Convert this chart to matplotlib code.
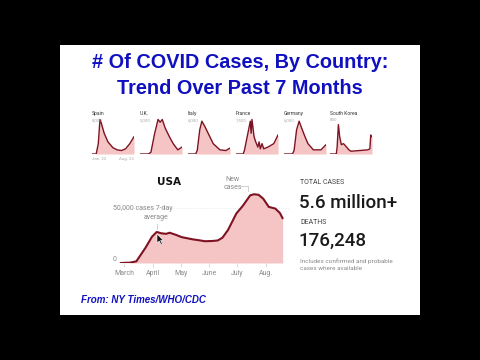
import matplotlib
matplotlib.use('Agg')
import matplotlib.pyplot as plt
import numpy as np
import pandas as pd
from matplotlib.patches import Rectangle, Polygon

# ---- data -------------------------------------------------------------
# USA new cases, 7-day average
usa_dates = ['2020-02-26', '2020-03-07', '2020-03-14', '2020-03-24', '2020-03-31',
             '2020-04-05', '2020-04-10', '2020-04-15', '2020-04-19', '2020-04-26',
             '2020-05-02', '2020-05-08', '2020-05-14', '2020-05-22', '2020-05-27',
             '2020-06-04', '2020-06-10', '2020-06-15', '2020-06-21', '2020-06-30',
             '2020-07-07', '2020-07-15', '2020-07-19', '2020-07-24', '2020-07-29',
             '2020-08-04', '2020-08-11', '2020-08-16', '2020-08-19']
usa_cases = [0, 300, 1500, 14000, 24000,
             28200, 27000, 26500, 27500, 25500,
             23500, 22500, 21500, 20500, 19800,
             20000, 20500, 23000, 30000, 45000,
             52000, 61500, 62500, 62000, 58500,
             51000, 49500, 45500, 40600]
month_labels = ['March', 'April', 'May', 'June', 'July', 'Aug.']
month_starts = ['2020-03-01', '2020-04-01', '2020-05-01', '2020-06-01', '2020-07-01', '2020-08-01']

# small multiples: relative shape of each country's curve (time fraction, share of peak)
countries = ['Spain', 'U.K.', 'Italy', 'France', 'Germany', 'South Korea']
country_sub = ['8,000', '5,000', '6,000', '7,500', '6,000', '800']
spain_t = [0, .1, .15, .19, .22, .29, .38, .5, .6, .7, .8, .9, 1.0]
spain_v = [0, 0, .3, 1.0, .9, .6, .35, .18, .12, .1, .15, .3, .5]
uk_t = [0, .2, .26, .35, .43, .48, .53, .6, .7, .79, .9, 1]
uk_v = [0, 0, .05, .6, 1.0, .92, 1.0, .75, .5, .3, .12, .2]
italy_t = [0, .18, .22, .28, .33, .4, .5, .6, .76, .9, 1]
italy_v = [0, 0, .1, .7, .95, .8, .55, .3, .12, .1, .17]
france_t = [0, .17, .2, .3, .34, .36, .38, .43, .47, .52, .55, .58, .62, .66, .76, .9, 1]
france_v = [0, 0, .1, .7, .95, .6, 1.0, .5, .35, .2, .35, .15, .3, .15, .2, .3, .55]
germany_t = [0, .2, .24, .3, .36, .42, .5, .57, .7, .88, 1]
germany_v = [0, 0, .1, .7, .95, .75, .5, .3, .12, .12, .27]
korea_t = [0, .15, .17, .2, .23, .27, .32, .36, .45, .5, .7, .9, .95, .97, 1]
korea_v = [0, 0, .2, .85, .5, .27, .3, .25, .12, .08, .1, .12, .15, .55, .5]
shapes = [(spain_t, spain_v), (uk_t, uk_v), (italy_t, italy_v),
          (france_t, france_v), (germany_t, germany_v), (korea_t, korea_v)]

total_cases = '5.6 million+'
deaths = '176,248'

# ---- layout helpers (pixel boxes on a 480x360 canvas) -------------------
W, H = 480, 360
def box(x0, y0, x1, y1):
    return [x0 / W, 1 - y1 / H, (x1 - x0) / W, (y1 - y0) / H]

def fx(x):
    return x / W

def fy(y):
    return 1 - y / H

LINE = '#7d1322'
FILL = '#f5c4c4'
BLUE = '#1010c0'
GREY = '#8a8a8a'

fig = plt.figure(figsize=(4.8, 3.6), dpi=100)
fig.patch.set_facecolor('black')
slide = Rectangle((fx(60), fy(315)), fx(360), 270 / H, transform=fig.transFigure,
                  facecolor='white', edgecolor='none', zorder=-10)
fig.patches.append(slide)

fig.text(0.5, fy(63), '# Of COVID Cases, By Country:', ha='center', va='center',
         color=BLUE, fontsize=14.3, fontweight='bold', family='Liberation Sans')
fig.text(0.5, fy(88), 'Trend Over Past 7 Months', ha='center', va='center',
         color=BLUE, fontsize=14.3, fontweight='bold', family='Liberation Sans')

# ---- small multiples ---------------------------------------------------
starts = [92, 140, 188, 236, 284, 330]
for i, (name, sub, (t, v)) in enumerate(zip(countries, country_sub, shapes)):
    x0 = starts[i]
    ax = fig.add_axes(box(x0, 116, x0 + 42, 154))
    ax.patch.set_alpha(0)
    ax.fill_between(t, v, color=FILL, lw=0)
    ax.plot(t, v, color=LINE, lw=1.0)
    ax.set_xlim(0, 1)
    ax.set_ylim(0, 1.1)
    ax.axis('off')
    ax.axhline(0, color='#bbbbbb', lw=0.4)
    ax.text(0.0, 1.06, name, transform=ax.transAxes, fontsize=3.6, color='#333333',
            va='center', family='Roboto')
    ax.text(0.0, 0.9, sub, transform=ax.transAxes, fontsize=3.2, color='#aaaaaa',
            va='center', family='Roboto')
    if i == 0:
        ax.text(0.0, -0.12, 'Jan. 22', transform=ax.transAxes, fontsize=3.2, color='#aaaaaa',
                va='center', family='Roboto')
        ax.text(1.0, -0.12, 'Aug. 22', transform=ax.transAxes, fontsize=3.2, color='#aaaaaa',
                va='center', ha='right', family='Roboto')

# ---- USA chart ----------------------------------------------------------
origin = pd.Timestamp('2020-03-01')
days = (pd.to_datetime(usa_dates) - origin).days.values
mdays = (pd.to_datetime(month_starts) - origin).days.values

ax = fig.add_axes(box(113, 172, 290, 263))
ax.patch.set_alpha(0)
ax.fill_between(days, usa_cases, color=FILL, lw=0)
ax.plot(days, usa_cases, color=LINE, lw=1.5, solid_capstyle='round')
px_per_case = 55 / 50000
ax.set_xlim((113 - 124.3) / 0.926, (290 - 124.3) / 0.926)
ax.set_ylim(0, 91 / px_per_case)
for s in ax.spines.values():
    s.set_visible(False)
ax.set_yticks([])
ax.set_xticks(mdays)
ax.set_xticklabels(month_labels, fontsize=5, color=GREY, family='Roboto')
ax.tick_params(axis='x', length=3, color='#cccccc', width=0.5, pad=2)
ax.plot([-12, 178], [50000, 50000], color='#dddddd', lw=0.5, ls=':', zorder=0)

ax.text(-12.5, 50000, '50,000 cases 7-day', fontsize=5, color=GREY, va='center',
        family='Roboto')
ax.text(48, 41500, 'average', fontsize=5, color=GREY, va='center', ha='right',
        family='Roboto')
ax.plot([35, 35], [30500, 35500], color='#bbbbbb', lw=0.5)
ax.text(-12.5, 3500, '0', fontsize=5, color=GREY, va='center', family='Roboto')
ax.text(117, 72500, 'New\ncases', fontsize=5, color=GREY, va='center', ha='center',
        linespacing=1.2, family='Roboto')
ax.plot([126, 134, 134], [70000, 70000, 65500], color='#bbbbbb', lw=0.5)
ax.text(48, 73600, 'USA', fontsize=7.5, fontweight='bold', color='#111111',
        ha='center', va='center', family='DejaVu Sans')

# mouse pointer
cx, cy = 157, 234
pointer = [(cx, cy), (cx, cy + 9), (cx + 2.2, cy + 7), (cx + 4, cy + 10.5),
           (cx + 5.3, cy + 9.8), (cx + 3.6, cy + 6.4), (cx + 6.3, cy + 6.4)]
fig.patches.append(Polygon([(fx(a), fy(b)) for a, b in pointer], closed=True,
                           transform=fig.transFigure, facecolor='#111111',
                           edgecolor='white', lw=0.4, zorder=10))

# ---- totals ------------------------------------------------------------
fig.text(fx(300), fy(183), 'TOTAL CASES', fontsize=5, color='#444444', va='center',
         family='Roboto')
fig.text(fx(299), fy(203), total_cases, fontsize=13.5, color='#1a1a1a', va='center',
         family='Roboto', fontweight='medium')
fig.text(fx(300), fy(222), 'DEATHS', fontsize=5, color='#444444', va='center',
         family='Roboto')
fig.text(fx(299), fy(241), deaths, fontsize=13.5, color='#1a1a1a', va='center',
         family='Roboto', fontweight='medium')
fig.text(fx(300), fy(261), 'Includes confirmed and probable', fontsize=4.6, color=GREY,
         va='center', family='Roboto')
fig.text(fx(300), fy(268), 'cases where available', fontsize=4.6, color=GREY,
         va='center', family='Roboto')

fig.text(fx(81), fy(300), 'From: NY Times/WHO/CDC', fontsize=7, color=BLUE,
         fontweight='bold', fontstyle='italic', va='center', family='Liberation Sans')

fig.savefig('out.png', dpi=100, facecolor=fig.get_facecolor())
